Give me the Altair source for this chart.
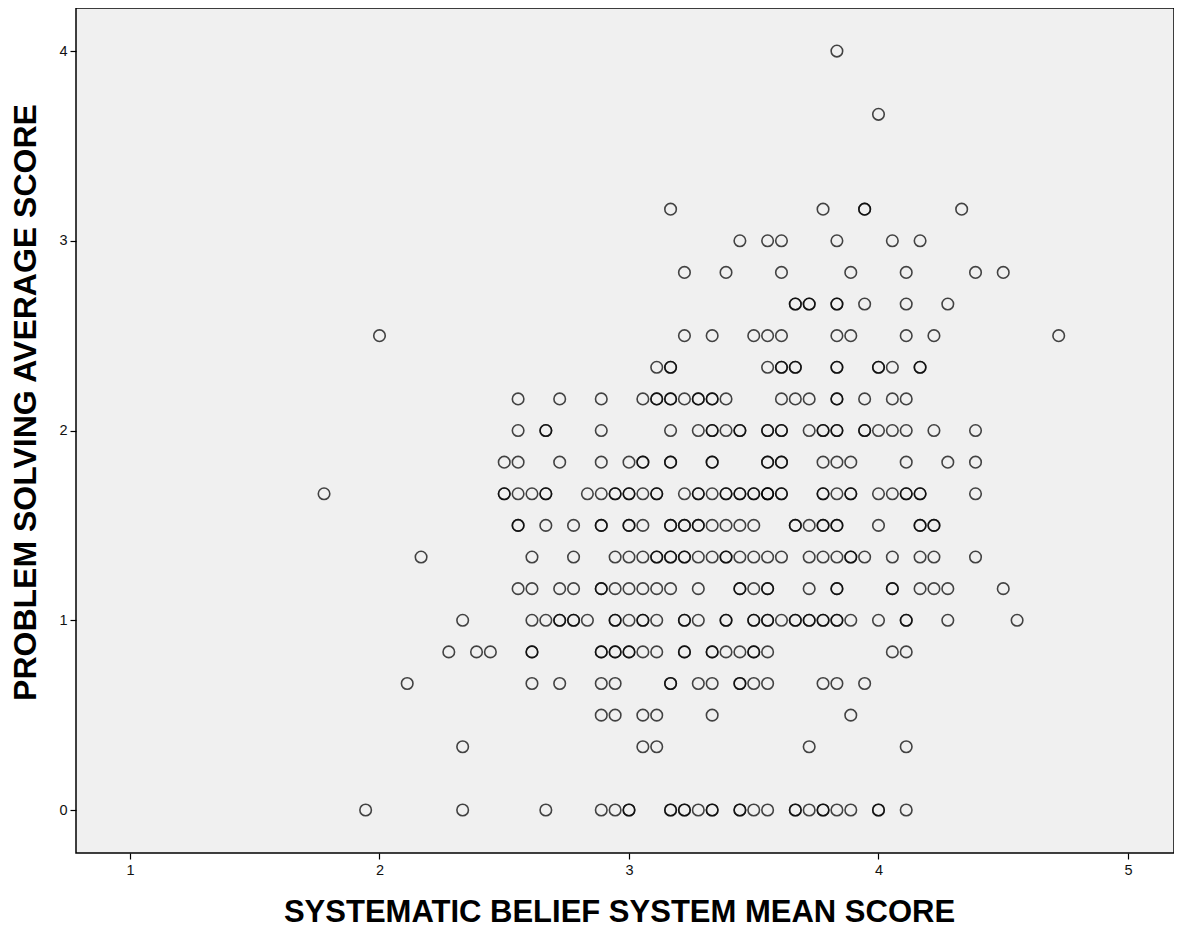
import altair as alt
import pandas as pd

# x values are stored in eighteenths (x = k / 18), y levels in sixths
ROWS = {
    24: [69],
    22: [72],
    19: [57, 68, 71, 71, 78],
    18: [62, 64, 65, 69, 73, 75],
    17: [58, 61, 65, 70, 74, 79, 81],
    16: [66, 66, 67, 67, 69, 69, 71, 74, 77],
    15: [36, 58, 60, 63, 64, 65, 69, 70, 74, 76, 85],
    14: [56, 57, 57, 64, 65, 65, 66, 66, 69, 69, 72, 72, 73, 75, 75],
    13: [46, 49, 52, 55, 56, 56, 57, 57, 58, 59, 59, 60, 60, 61, 65, 66, 67,
         69, 69, 71, 73, 74],
    12: [46, 48, 48, 52, 57, 59, 60, 60, 61, 62, 62, 64, 64, 65, 65, 67, 68,
         68, 69, 69, 71, 71, 72, 73, 74, 76, 79],
    11: [45, 46, 49, 52, 54, 55, 55, 57, 57, 60, 60, 64, 64, 65, 65, 68, 69,
         70, 74, 77, 79],
    10: [32, 45, 45, 46, 47, 48, 48, 51, 52, 53, 53, 54, 54, 55, 56, 56, 58,
         59, 59, 60, 61, 61, 62, 62, 63, 63, 64, 64, 64, 65, 65, 68, 68, 69,
         70, 70, 72, 73, 74, 74, 75, 75, 79],
    9: [46, 46, 48, 50, 52, 52, 54, 54, 55, 57, 57, 58, 58, 59, 59, 60, 61,
        62, 63, 66, 66, 67, 68, 68, 69, 69, 72, 75, 75, 76, 76],
    8: [39, 47, 50, 53, 54, 55, 56, 56, 57, 57, 58, 58, 59, 60, 61, 61, 62,
        63, 64, 65, 67, 68, 69, 70, 70, 71, 73, 75, 76, 79],
    7: [46, 47, 49, 50, 52, 52, 53, 54, 55, 56, 57, 59, 62, 62, 63, 64, 64,
        67, 69, 69, 73, 73, 75, 76, 77, 81],
    6: [42, 47, 48, 49, 49, 50, 50, 51, 53, 53, 54, 55, 55, 56, 58, 58, 59,
        61, 61, 63, 63, 64, 64, 65, 66, 66, 67, 67, 68, 68, 69, 69, 70, 72,
        74, 74, 77, 82],
    5: [41, 43, 44, 47, 47, 52, 52, 53, 53, 54, 54, 55, 56, 58, 58, 60, 60,
        61, 62, 63, 63, 64, 73, 74],
    4: [38, 47, 49, 52, 53, 57, 57, 59, 60, 62, 62, 63, 64, 68, 69, 71],
    3: [52, 53, 55, 56, 60, 70],
    2: [42, 55, 56, 67, 74],
    0: [35, 42, 48, 52, 53, 54, 54, 57, 57, 58, 58, 59, 60, 60, 62, 62, 63,
        64, 66, 66, 67, 68, 68, 69, 70, 72, 72, 74],
}

X_TICKS = [1, 2, 3, 4, 5]
Y_TICKS = [0, 1, 2, 3, 4]

recs = []
for yk, xs in ROWS.items():
    for xk in xs:
        recs.append({"x": xk / 18.0, "y": yk / 6.0})
df = pd.DataFrame(recs)

W, H = 1098, 845

chart = alt.Chart(df).mark_point(
    shape="circle", filled=False, size=133, strokeWidth=1.6,
    color="#000", opacity=0.72
).encode(
    x=alt.X("x:Q", scale=alt.Scale(domain=[0.7836, 5.1844], nice=False, zero=False),
            axis=alt.Axis(values=X_TICKS, title="SYSTEMATIC BELIEF SYSTEM MEAN SCORE",
                          grid=False, domain=False, tickColor="#000", tickSize=6,
                          tickWidth=1.2, labelFont="Liberation Sans", labelFontSize=14.5,
                          labelColor="#111", labelPadding=4,
                          titleFont="Liberation Sans", titleFontSize=31,
                          titleFontWeight="bold", titleColor="#000",
                          titleX=543, titleY=59, titleBaseline="middle",
                          titleAnchor="middle")),
    y=alt.Y("y:Q", scale=alt.Scale(domain=[-0.2266, 4.227], nice=False, zero=False),
            axis=alt.Axis(values=Y_TICKS, title="PROBLEM SOLVING AVERAGE SCORE",
                          grid=False, domain=False, tickColor="#000", tickSize=6,
                          tickWidth=1.2, labelFont="Liberation Sans", labelFontSize=14.5,
                          labelColor="#111", labelPadding=3,
                          titleFont="Liberation Sans", titleFontSize=32,
                          titleFontWeight="bold", titleColor="#000",
                          titleX=-51, titleY=394, titleAngle=-90,
                          titleBaseline="middle", titleAnchor="middle")),
).properties(
    width=W, height=H,
    autosize=alt.AutoSizeParams(type="none"),
    padding={"left": 68, "top": 0, "right": 0, "bottom": 85},
    background="white",
).configure_view(
    fill="#F0F0F0", stroke="#000", strokeWidth=1.5
)

chart.save("out.html", embed_options={"renderer": "svg", "actions": False})
